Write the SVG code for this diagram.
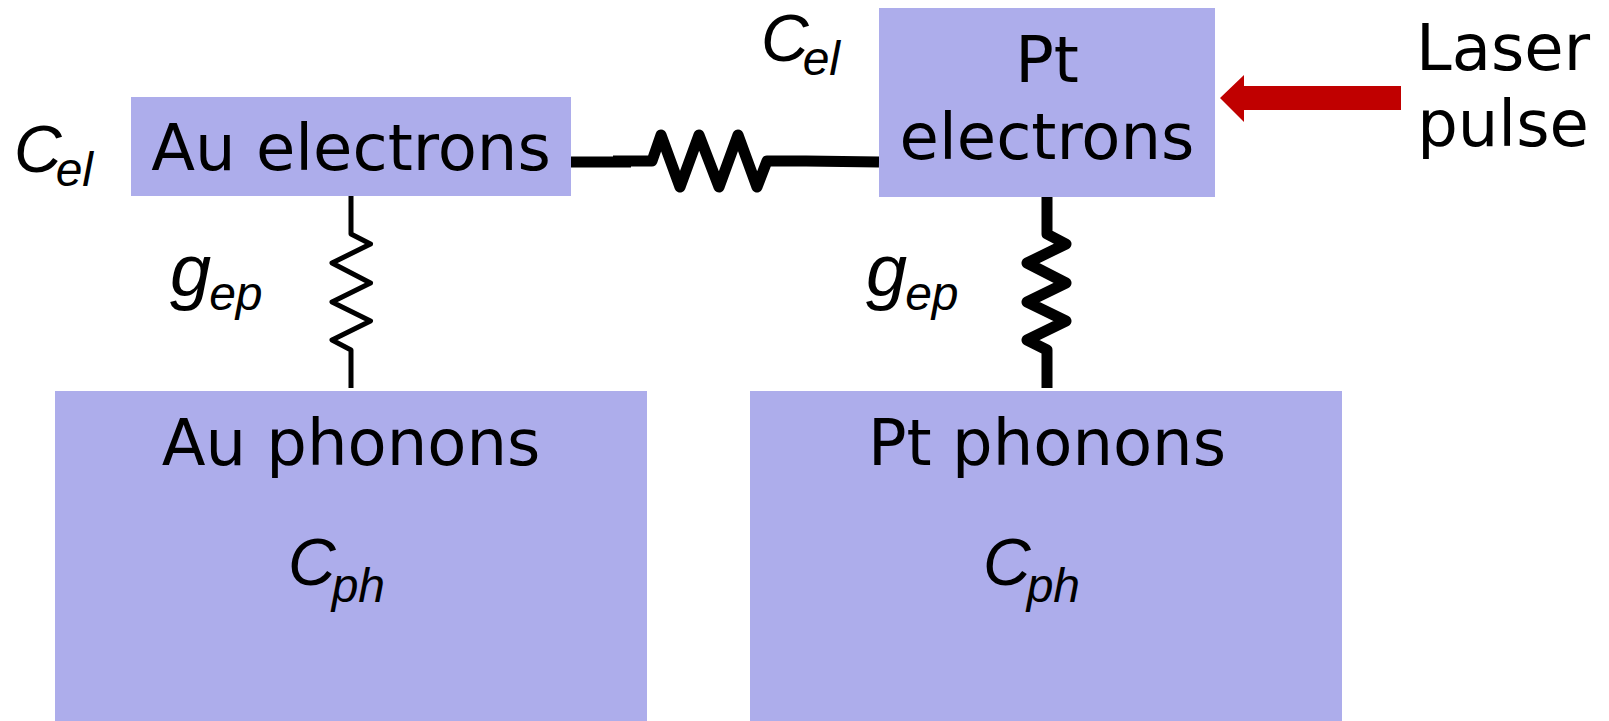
<svg xmlns="http://www.w3.org/2000/svg" width="1609" height="721" viewBox="0 0 1609 721">
<style>
.box{fill:#adadeb}
.t{font-family:"DejaVu Sans",sans-serif;font-size:64px;fill:#000;text-anchor:middle}
.v{font-family:"Liberation Sans",Arial,sans-serif;font-style:italic;fill:#000}
.b{font-size:66px}
.s{font-size:48px}
.g{font-size:74px}
.w{fill:none;stroke:#000;stroke-linejoin:round}
</style>
<rect width="1609" height="721" fill="#fff"/>
<g id="connectors">
<path class="w" stroke-width="11" d="M571 162H631"/>
<path class="w" stroke-width="11" d="M613 161H652L661 135L680 187L699 135L719 187L738 135L757 187L767 161H806L879 162"/>
<path class="w" stroke-width="5" stroke-linejoin="miter" d="M351 196V234L370.500 244L332 263L370.500 283L332 302L370.500 321L332 340L351 350V388"/>
<path class="w" stroke-width="11" d="M1047 197V234L1066 244L1027 263L1066 283L1027 302L1066 321L1027 340L1047 350V388"/>
</g>
<g id="au-electrons"><rect class="box" x="131" y="97" width="440" height="99"/><text class="t" x="351" y="170">Au electrons</text></g>
<g id="pt-electrons"><rect class="box" x="879" y="8" width="336" height="189"/><text class="t" x="1047" y="82">Pt</text><text class="t" x="1047" y="159">electrons</text></g>
<g id="au-phonons"><rect class="box" x="55" y="391" width="592" height="330"/><text class="t" x="351" y="465">Au phonons</text><text class="v" x="288" y="585"><tspan class="b">C</tspan><tspan class="s" dx="-4" dy="17">ph</tspan></text></g>
<g id="pt-phonons"><rect class="box" x="750" y="391" width="592" height="330"/><text class="t" x="1047" y="465">Pt phonons</text><text class="v" x="983" y="585"><tspan class="b">C</tspan><tspan class="s" dx="-4" dy="17">ph</tspan></text></g>
<g id="laser"><path fill="#c00000" d="M1220 98L1244 75V86H1401V110H1244V122Z"/><text class="t" x="1503" y="70">Laser</text><text class="t" x="1503" y="146">pulse</text></g>
<g id="labels">
<text class="v" x="14" y="172"><tspan class="b">C</tspan><tspan class="s" dx="-6" dy="14">el</tspan></text>
<text class="v" x="761" y="61"><tspan class="b">C</tspan><tspan class="s" dx="-6" dy="14">el</tspan></text>
<text class="v" x="170" y="296"><tspan class="g">g</tspan><tspan class="s" dx="-2" dy="14">ep</tspan></text>
<text class="v" x="866" y="296"><tspan class="g">g</tspan><tspan class="s" dx="-2" dy="14">ep</tspan></text>
</g>
</svg>
